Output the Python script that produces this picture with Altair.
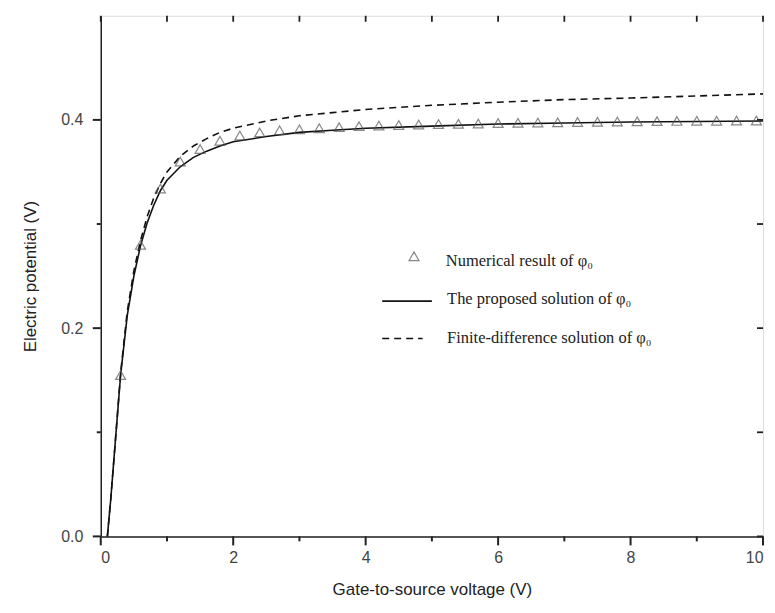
import altair as alt
import pandas as pd

# ---- data ----
curve_x = [0.1, 0.15, 0.2, 0.3, 0.4, 0.5, 0.6, 0.7, 0.8, 0.9, 1.0, 1.2, 1.4, 1.6, 1.8,
           2.0, 2.5, 3.0, 3.5, 4.0, 5.0, 6.0, 7.0, 8.0, 9.0, 10.0]
proposed_y = [0.0, 0.035, 0.075, 0.155, 0.212, 0.250, 0.279, 0.301, 0.318, 0.332, 0.342,
              0.355, 0.364, 0.370, 0.375, 0.379, 0.384, 0.388, 0.390, 0.392, 0.394,
              0.396, 0.397, 0.398, 0.3985, 0.399]
fd_y = [0.0, 0.035, 0.075, 0.157, 0.216, 0.255, 0.284, 0.307, 0.325, 0.339, 0.350,
        0.365, 0.375, 0.382, 0.388, 0.392, 0.399, 0.404, 0.407, 0.410, 0.414,
        0.417, 0.4195, 0.421, 0.423, 0.425]
num_x = [0.3, 0.6, 0.9, 1.2, 1.5, 1.8, 2.1, 2.4, 2.7, 3.0, 3.3, 3.6, 3.9, 4.2, 4.5,
         4.8, 5.1, 5.4, 5.7, 6.0, 6.3, 6.6, 6.9, 7.2, 7.5, 7.8, 8.1, 8.4, 8.7, 9.0,
         9.3, 9.6, 9.9]
num_y = [0.155, 0.28, 0.334, 0.36, 0.372, 0.380, 0.385, 0.388, 0.390, 0.391, 0.392,
         0.393, 0.394, 0.3945, 0.395, 0.3955, 0.396, 0.3962, 0.3965, 0.397, 0.3972,
         0.3975, 0.3977, 0.398, 0.3982, 0.3984, 0.3986, 0.3988, 0.399, 0.3991,
         0.3992, 0.3993, 0.3994]
x_major = [0, 2, 4, 6, 8, 10]
x_minor = [1, 3, 5, 7, 9]
y_major = [0.0, 0.2, 0.4]
y_minor = [0.1, 0.3]
x_all = [0, 1, 2, 3, 4, 5, 6, 7, 8, 9, 10]
y_all = [0.0, 0.1, 0.2, 0.3, 0.4]

legend_labels = ["Numerical result of φ₀", "The proposed solution of φ₀",
                 "Finite-difference solution of φ₀"]
legend_text_x = [5.21, 5.23, 5.23]
legend_text_y = [0.264, 0.228, 0.191]
legend_sym_x = [4.73]
legend_sym_y = [0.269]
legend_line_x = [4.25, 5.0]
legend_line_y = [0.226, 0.226]
legend_dash_x = [4.25, 4.86]
legend_dash_y = [0.190, 0.190]

# ---- tables ----
df_prop = pd.DataFrame({"x": curve_x, "y": proposed_y})
df_fd = pd.DataFrame({"x": curve_x, "y": fd_y})
df_num = pd.DataFrame({"x": num_x, "y": num_y})
df_xall = pd.DataFrame({"t": x_all})
df_yall = pd.DataFrame({"t": y_all})
df_xmaj = pd.DataFrame({"t": x_major})
df_ymaj = pd.DataFrame({"t": y_major})
df_xmin = pd.DataFrame({"t": x_minor})
df_ymin = pd.DataFrame({"t": y_minor})
df_ltext = pd.DataFrame({"x": legend_text_x, "y": legend_text_y, "label": legend_labels})
df_lsym = pd.DataFrame({"x": legend_sym_x, "y": legend_sym_y})
df_lline = pd.DataFrame({"x": legend_line_x, "y": legend_line_y})
df_ldash = pd.DataFrame({"x": legend_dash_x, "y": legend_dash_y})

xs = alt.Scale(domain=[0, 10], nice=False, zero=False)
ys = alt.Scale(domain=[0, 0.5], nice=False, zero=False)

AXC = "#222222"
LBC = "#444444"
x_axis = alt.Axis(
    values=x_major, title="Gate-to-source voltage (V)", ticks=False,
    labelFont="Liberation Sans", labelFontSize=16, labelColor=LBC, labelPadding=13,
    titleFont="Liberation Sans", titleFontSize=17, titleFontWeight="normal",
    titleColor=AXC, titlePadding=16, domainColor=AXC, domainWidth=1.5, grid=False,
)
y_axis = alt.Axis(
    values=y_major, title="Electric potential (V)", format=".1f", ticks=False,
    labelFont="Liberation Sans", labelFontSize=16, labelColor=LBC, labelPadding=18,
    titleFont="Liberation Sans", titleFontSize=17, titleFontWeight="normal",
    titleColor=AXC, titlePadding=21, domainColor=AXC, domainWidth=1.5, grid=False,
)


def X(field):
    return alt.X(field, type="quantitative", scale=xs, axis=x_axis)


def Y(field):
    return alt.Y(field, type="quantitative", scale=ys, axis=y_axis)


proposed = alt.Chart(df_prop).mark_line(color="#111111", strokeWidth=1.6).encode(
    x=X("x"), y=Y("y"))
fd = alt.Chart(df_fd).mark_line(color="#111111", strokeWidth=1.6,
                                strokeDash=[7, 5]).encode(x=X("x"), y=Y("y"))
num = alt.Chart(df_num).mark_point(shape="triangle-up", filled=False, color="#555555",
                                   size=100, strokeWidth=1.2).encode(x=X("x"), y=Y("y"))

# ticks: outside on bottom/left (major long, minor short), inside on top/right
bottom_major = alt.Chart(df_xmaj).mark_rule(color=AXC, strokeWidth=2).encode(
    x=X("t"), y=alt.value(522), y2=alt.value(531))
bottom_minor = alt.Chart(df_xmin).mark_rule(color=AXC, strokeWidth=2).encode(
    x=X("t"), y=alt.value(522), y2=alt.value(527))
left_major = alt.Chart(df_ymaj).mark_rule(color=AXC, strokeWidth=2).encode(
    y=Y("t"), x=alt.value(0), x2=alt.value(-8))
left_minor = alt.Chart(df_ymin).mark_rule(color=AXC, strokeWidth=2).encode(
    y=Y("t"), x=alt.value(0), x2=alt.value(-4))
top_ticks = alt.Chart(df_xall).mark_rule(color=AXC, strokeWidth=1.8).encode(
    x=X("t"), y=alt.value(0), y2=alt.value(6))
right_ticks = alt.Chart(df_yall).mark_rule(color=AXC, strokeWidth=1.8).encode(
    y=Y("t"), x=alt.value(664), x2=alt.value(658))

leg_text = alt.Chart(df_ltext).mark_text(
    align="left", baseline="middle", font="Liberation Serif", fontSize=16.5,
    color="#222222").encode(x=X("x"), y=Y("y"), text="label:N")
leg_sym = alt.Chart(df_lsym).mark_point(shape="triangle-up", filled=False,
                                        color="#555555", size=100,
                                        strokeWidth=1.2).encode(x=X("x"), y=Y("y"))
leg_line = alt.Chart(df_lline).mark_line(color="#111111", strokeWidth=1.6).encode(
    x=X("x"), y=Y("y"))
leg_dash = alt.Chart(df_ldash).mark_line(color="#111111", strokeWidth=1.6,
                                         strokeDash=[7, 5]).encode(x=X("x"), y=Y("y"))

chart = alt.layer(
    fd, proposed, num, bottom_major, bottom_minor, left_major, left_minor,
    top_ticks, right_ticks, leg_text, leg_sym, leg_line, leg_dash
).properties(
    width=664, height=522,
    autosize=alt.AutoSizeParams(type="none"),
    padding={"left": 93, "top": 7, "right": 4, "bottom": 76},
).configure_view(stroke=AXC, strokeWidth=1.5).configure(background="white")

chart.save("out.html", embed_options={"renderer": "svg", "actions": False})
